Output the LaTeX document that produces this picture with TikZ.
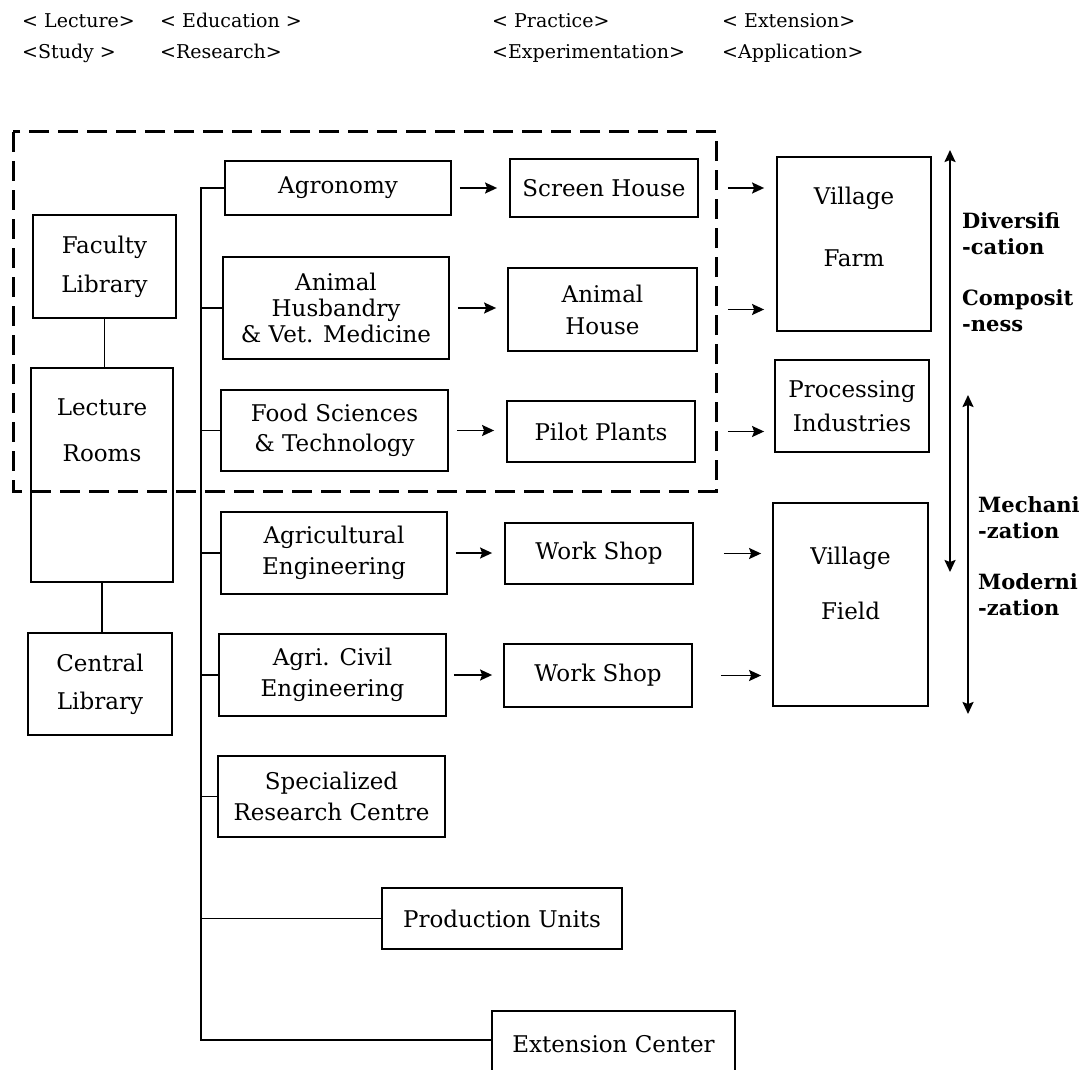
\documentclass[tikz,border=0pt]{standalone}
\usepackage{fontspec}
\setmainfont{DejaVu Serif}
\usetikzlibrary{arrows.meta,calc}
\begin{document}
\begin{tikzpicture}[x=1pt,y=-1pt,
  box/.style={draw, line width=1.8pt, inner sep=0pt, align=center, font=\fontsize{23}{27}\selectfont},
  txt/.style={inner sep=0pt, align=center, font=\fontsize{23}{27}\selectfont},
  head/.style={anchor=base west, inner sep=0pt, font=\fontsize{19}{22}\selectfont},
  side/.style={anchor=west, inner sep=0pt, align=left, font=\bfseries\fontsize{21}{26}\selectfont},
  link/.style={line width=1.6pt},
  flow/.style={line width=1.6pt, -{Stealth[length=12pt,width=11pt,inset=2pt]}},
  span/.style={line width=2pt, {Stealth[length=12pt,width=11pt,inset=2pt]}-{Stealth[length=12pt,width=11pt,inset=2pt]}},
  zone/.style={line width=3pt, dash pattern=on 20pt off 9pt}
]
\useasboundingbox (0,0) rectangle (1087,1070);
\clip (0,0) rectangle (1087,1070);

% column headings
\node[head] (h1) at (22,28) {< Lecture>};
\node[head] (h2) at (160,28) {< Education >};
\node[head] (h3) at (492,28) {< Practice>};
\node[head] (h4) at (722,28) {< Extension>};
\node[head] (h5) at (22,59) {<Study >};
\node[head] (h6) at (160,59) {<Research>};
\node[head] (h7) at (492,59) {<Experimentation>};
\node[head] (h8) at (722,59) {<Application>};

% faculty zone
\draw[zone] (13,132) rectangle (716,491);

% libraries and lecture rooms
\node[box, minimum width=143pt, minimum height=103pt, font=\fontsize{23}{39}\selectfont] (fac) at (104.5,266.5) {Faculty\\Library};
\node[box, minimum width=142pt, minimum height=214pt] (lec) at (102,475) {};
\node[txt, font=\fontsize{23}{46}\selectfont] (lectx) at (102,430) {Lecture\\Rooms};
\node[box, minimum width=144pt, minimum height=102pt, font=\fontsize{23}{38}\selectfont] (cen) at (100,684) {Central\\Library};

% departments
\node[box, minimum width=226pt, minimum height=54pt] (agr) at (338,188) {Agronomy};
\node[box, minimum width=226pt, minimum height=102pt, font=\fontsize{23}{26}\selectfont] (ani) at (336,308) {Animal\\Husbandry\\\& Vet. Medicine};
\node[box, minimum width=227pt, minimum height=81pt, font=\fontsize{23}{30}\selectfont] (food) at (334.5,430.5) {Food Sciences\\\& Technology};
\node[box, minimum width=226pt, minimum height=82pt, font=\fontsize{23}{31}\selectfont] (aeng) at (334,553) {Agricultural\\Engineering};
\node[box, minimum width=227pt, minimum height=82pt, font=\fontsize{23}{31}\selectfont] (civ) at (332.5,675) {Agri. Civil\\Engineering};
\node[box, minimum width=227pt, minimum height=81pt, font=\fontsize{23}{31}\selectfont] (spec) at (331.5,796.5) {Specialized\\Research Centre};
\node[box, minimum width=240pt, minimum height=61pt] (prod) at (502,918.5) {Production Units};
\node[box, minimum width=243pt, minimum height=66pt] (ext) at (613.5,1044) {Extension Center};

% practice facilities
\node[box, minimum width=188pt, minimum height=58pt] (scr) at (604,188) {Screen House};
\node[box, minimum width=189pt, minimum height=83pt, font=\fontsize{23}{32}\selectfont] (anh) at (602.5,309.5) {Animal\\House};
\node[box, minimum width=188pt, minimum height=61pt] (pil) at (601,431.5) {Pilot Plants};
\node[box, minimum width=188pt, minimum height=61pt] (ws1) at (599,553.5) {Work Shop};
\node[box, minimum width=188pt, minimum height=63pt] (ws2) at (598,675.5) {Work Shop};

% fields of application
\node[box, minimum width=154pt, minimum height=174pt] (farm) at (854,244) {};
\node[txt, font=\fontsize{23}{62}\selectfont] (farmtx) at (854,227) {Village\\Farm};
\node[box, minimum width=154pt, minimum height=92pt, font=\fontsize{23}{34}\selectfont] (proc) at (852,406) {Processing\\Industries};
\node[box, minimum width=155pt, minimum height=203pt] (field) at (850.5,604.5) {};
\node[txt, font=\fontsize{23}{55}\selectfont] (fieldtx) at (850.5,583) {Village\\Field};

% library links
\draw[link] (fac.south) -- (fac.south |- lec.north);
\draw[link] (lec.south) -- (lec.south |- cen.north);

% trunk with branches
\coordinate (trunkbot) at (201,1040);
\draw[link] (agr.west) -| (trunkbot) -- (trunkbot -| ext.west);
\foreach \n in {ani,food,aeng,civ,spec,prod}
  \draw[link] (\n.west) -- (\n.west -| trunkbot);

% flows from departments to facilities
\draw[flow, shorten <=8pt, shorten >=12pt] (agr.east) -- (agr.east -| scr.west);
\draw[flow, shorten <=8pt, shorten >=11pt] (ani.east) -- (ani.east -| anh.west);
\draw[flow, shorten <=8pt, shorten >=12pt] (food.east) -- (food.east -| pil.west);
\draw[flow, shorten <=8pt, shorten >=12pt] (aeng.east) -- (aeng.east -| ws1.west);
\draw[flow, shorten <=7pt, shorten >=11pt] (civ.east) -- (civ.east -| ws2.west);

% flows from facilities to application
\draw[flow, shorten <=29pt, shorten >=12pt] (scr.east) -- (scr.east -| farm.west);
\draw[flow, shorten <=30pt, shorten >=12pt] (anh.east) -- (anh.east -| farm.west);
\draw[flow, shorten <=32pt, shorten >=10pt] (pil.east) -- (pil.east -| proc.west);
\draw[flow, shorten <=30pt, shorten >=11pt] (ws1.east) -- (ws1.east -| field.west);
\draw[flow, shorten <=28pt, shorten >=11pt] (ws2.east) -- (ws2.east -| field.west);

% development spans
\coordinate (s1top) at (950,150);
\coordinate (s1bot) at (950,572);
\coordinate (s2top) at (968,395);
\coordinate (s2bot) at (968,714);
\draw[span] (s1top) -- (s1bot);
\draw[span] (s2top) -- (s2bot);

\node[side] (div) at (962,234) {Diversifi\\-cation};
\node[side] (com) at (962,310.5) {Composit\\-ness};
\node[side] (mec) at (978,518) {Mechani\\-zation};
\node[side] (mod) at (978,595) {Moderni\\-zation};
\end{tikzpicture}
\end{document}
